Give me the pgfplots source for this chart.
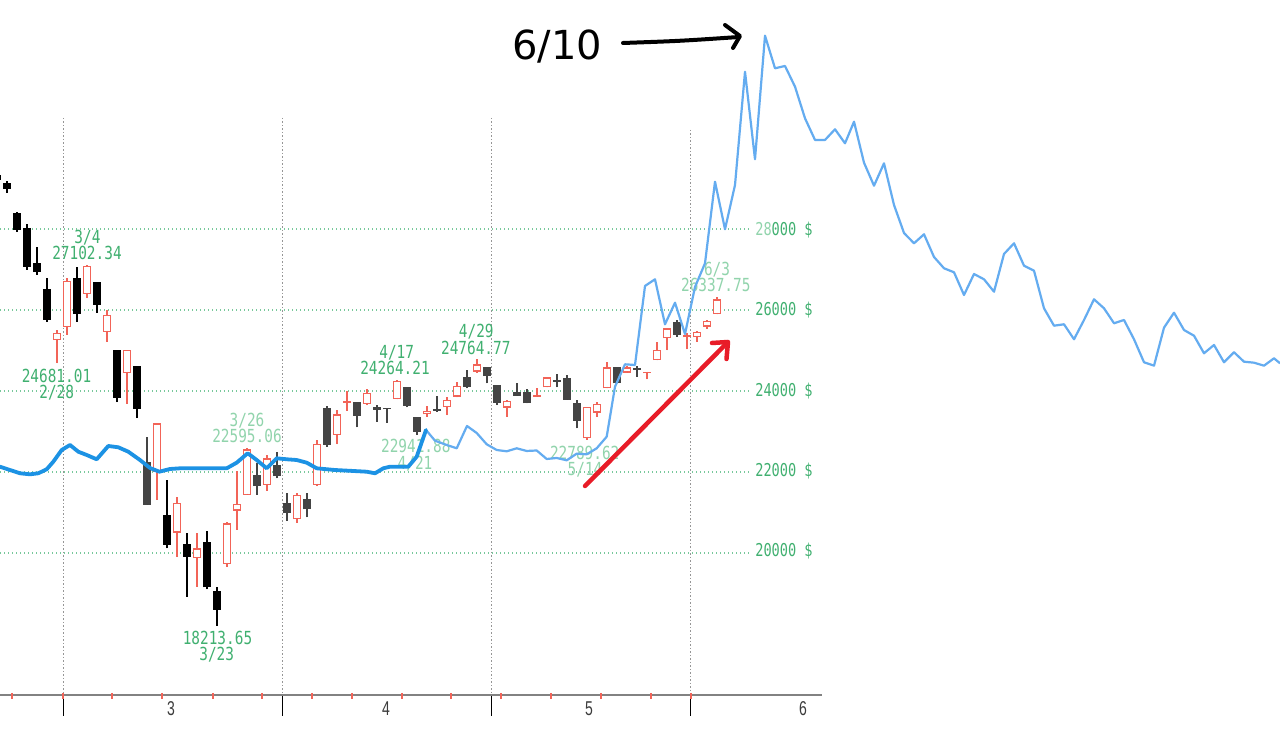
\documentclass[border=0pt]{standalone}
\usepackage{pgfplots}
\pgfplotsset{compat=1.18}
\usepackage{pgfplotstable}
\usepackage{graphicx}
\usepackage{fontspec}
\newfontfamily\labfont{DejaVu Sans Mono}
\newfontfamily\bigfont{DejaVu Sans}
\newfontfamily\axfont{Liberation Sans}

\definecolor{cred}{RGB}{242,100,88}
\definecolor{cgray}{RGB}{68,68,68}
\definecolor{gtxt}{RGB}{64,176,112}
\definecolor{gtxtl}{RGB}{145,212,172}
\definecolor{ggrid}{RGB}{120,200,155}
\definecolor{vgrid}{RGB}{150,150,150}
\definecolor{axline}{RGB}{130,130,130}
\definecolor{axtxt}{RGB}{60,60,60}
\definecolor{bthick}{RGB}{28,146,228}
\definecolor{bthin}{RGB}{100,172,240}
\definecolor{arrred}{RGB}{232,28,40}

\newcommand\gl[1]{\scalebox{1}[1.25]{\labfont\fontsize{14.4}{16}\selectfont #1}}
\newcommand\rl[1]{\scalebox{1}[1.3]{\labfont\fontsize{13.6}{15}\selectfont #1}}
\newcommand\al[1]{\scalebox{0.7}[1]{\axfont\fontsize{20}{22}\selectfont #1}}

\pgfplotsset{candle/.style={only marks, mark=*, mark size=0pt,
  mark options={draw=none, fill=none}, forget plot,
  error bars/.cd, y dir=plus, y explicit, error mark=none}}

% candles: i = trading day index (0 = 2/28), o h l c
\pgfplotstableread{
i o h l c
-6 29340 29400 29140 29220
-5 29136 29185 28889 28988
-4 28395 28420 27926 27975
-3 28025 28123 26988 27062
-2 27160 27556 26864 26938
-1 26519 26790 25704 25753
2 26790 27062 25704 25901
4 26691 26691 25926 26123
6 25012 25012 23728 23827
8 24617 24617 23333 23556
11 20938 21803 20116 20198
13 20222 20501 18921 19909
15 20279 20543 19104 19153
16 19069 19153 18198 18593
}\blackC

\pgfplotstableread{
i o h l c
9 22254 22857 21185 21185
20 21926 22215 21432 21654
22 22173 22501 21844 21901
23 21242 21489 20798 20980
25 21326 21474 20881 21079
27 23573 23630 22625 22667
30 23736 23736 23104 23383
32 23598 23654 23242 23531
33 23573 23573 23217 23548
35 24106 24106 23598 23630
36 23365 23365 22914 22995
38 23548 23877 23489 23514
41 24353 24519 24067 24106
43 24585 24585 24190 24370
44 24148 24148 23654 23711
46 23983 24190 23877 23877
47 23983 24049 23696 23696
50 24272 24420 24091 24230
51 24314 24395 23778 23778
52 23711 23778 23079 23267
56 24585 24585 24190 24190
58 24561 24617 24353 24519
62 25696 25753 25341 25383
}\grayC

\pgfplotstableread{
i o h l c
0 25259 25506 24691 25432
1 25580 26790 25383 26716
3 26395 27111 26296 27086
5 25457 26000 25210 25877
7 24444 25012 23679 25012
10 22007 23203 21309 23203
12 20501 21390 19909 21242
14 19869 20486 19168 20116
17 19728 20773 19662 20733
18 21045 22032 20568 21210
19 21432 22585 21432 22560
21 21679 22420 21538 22338
24 20832 21474 20748 21432
26 21679 22790 21654 22691
28 22914 23531 22691 23425
29 23711 24007 23514 23753
31 23679 24042 23654 23958
34 23802 24272 23802 24247
37 23425 23630 23365 23514
39 23598 23859 23407 23778
40 23859 24230 23844 24131
42 24477 24783 24452 24659
45 23588 23778 23365 23753
48 23859 24067 23859 23901
49 24091 24353 24091 24338
53 22832 23612 22790 23612
54 23464 23736 23365 23679
55 24067 24723 24067 24585
57 24452 24617 24452 24585
59 24437 24477 24289 24452
60 24765 25217 24765 25012
61 25301 25548 25012 25548
63 25326 25425 25029 25383
64 25326 25489 25217 25464
65 25588 25753 25531 25728
66 25901 26314 25901 26264
}\redC

\pgfplotstableread{
x y
-5.70 22131
-4.70 22049
-3.70 21968
-2.70 21943
-1.87 21968
-1.03 22067
-0.37 22254
0.47 22543
1.30 22667
2.13 22501
2.97 22420
3.97 22314
5.13 22642
6.13 22610
7.13 22501
8.30 22296
9.30 22099
10.23 22007
11.30 22074
12.30 22091
16.97 22091
17.97 22230
19.07 22462
19.97 22296
20.97 22091
21.97 22338
22.97 22314
23.97 22296
24.97 22230
25.97 22091
27.80 22049
29.63 22025
30.97 22007
31.80 21968
32.63 22091
33.30 22131
35.13 22131
35.97 22378
36.90 23037
}\thickline

\pgfplotstableread{
x y
36.90 23037
37.80 22773
38.97 22667
39.97 22585
41.00 23136
41.97 22963
42.97 22684
43.97 22543
44.97 22511
45.97 22585
46.97 22519
47.97 22531
48.97 22321
49.97 22346
50.97 22289
51.97 22452
52.97 22437
53.97 22585
54.97 22872
55.80 24106
56.80 24659
57.80 24642
58.80 26593
59.80 26758
60.80 25647
61.80 26180
62.80 25407
63.80 26568
64.80 27153
65.80 29168
66.80 27993
67.80 29086
68.80 31884
69.80 29721
70.80 32773
71.80 31968
72.80 32025
73.80 31514
74.80 30733
75.80 30198
76.80 30198
77.80 30462
78.80 30116
79.70 30649
80.70 29637
81.70 29069
82.70 29622
83.70 28593
84.70 27901
85.70 27647
86.70 27869
87.70 27309
88.70 27030
89.70 26931
90.70 26370
91.70 26889
92.70 26758
93.70 26452
94.70 27383
95.70 27647
96.70 27094
97.70 26970
98.70 26042
99.70 25612
100.70 25647
101.70 25277
102.70 25753
103.70 26264
104.70 26042
105.70 25672
106.70 25753
107.70 25277
108.70 24709
109.70 24625
110.70 25563
111.70 25933
112.70 25506
113.70 25365
114.70 24931
115.70 25136
116.70 24709
117.70 24956
118.70 24723
119.70 24699
120.70 24625
121.70 24807
122.30 24684
}\thinline

\begin{document}
\begin{tikzpicture}
\fill[white] (0,0) rectangle (1280pt,730pt);

% background decorations in pixel coordinates (y downward)
\begin{scope}[x=1pt,y=-1pt,yshift=730pt]
  \foreach \yy in {229,310,391,472,553}{
    \draw[ggrid, line width=1.3pt, dash pattern=on 1.4pt off 2.6pt] (0,\yy) -- (750,\yy);
  }
  \foreach \xx in {63,282,491}{
    \draw[vgrid, line width=1pt, dash pattern=on 1.5pt off 2pt] (\xx,118) -- (\xx,695);
  }
  \draw[vgrid, line width=1pt, dash pattern=on 1.5pt off 2pt] (690,130) -- (690,695);
  \begin{scope}[every node/.style={anchor=base, inner sep=0pt}]
  \node[text=gtxt] at (87.5,244) {\gl{3/4}};
  \node[text=gtxt] at (87,260) {\gl{27102.34}};
  \node[text=gtxt] at (56.5,383) {\gl{24681.01}};
  \node[text=gtxt] at (56.7,399) {\gl{2/28}};
  \node[text=gtxtl] at (247,426.5) {\gl{3/26}};
  \node[text=gtxtl] at (247,442.5) {\gl{22595.06}};
  \node[text=gtxt] at (217.5,645) {\gl{18213.65}};
  \node[text=gtxt] at (216.7,660.5) {\gl{3/23}};
  \node[text=gtxt] at (396.7,359) {\gl{4/17}};
  \node[text=gtxt] at (395,375) {\gl{24264.21}};
  \node[text=gtxt] at (476.3,338) {\gl{4/29}};
  \node[text=gtxt] at (475.8,355) {\gl{24764.77}};
  \node[text=gtxtl] at (415.8,453) {\gl{22941.88}};
  \node[text=gtxtl] at (415,470) {\gl{4/21}};
  \node[text=gtxtl] at (584.7,459.5) {\gl{22789.62}};
  \node[text=gtxtl] at (585,475.5) {\gl{5/14}};
  \node[text=gtxtl] at (717,276) {\gl{6/3}};
  \node[text=gtxtl] at (715.8,291.7) {\gl{26337.75}};
  \end{scope}
  % x axis
  \draw[axline, line width=2.5pt] (0,695) -- (822,695);
  \foreach \xx in {63,282,491,690}{
    \draw[black, line width=1pt] (\xx,696) -- (\xx,716);
  }
  \foreach \xx in {12,63,112,162,213,262,312,352,402,451,501,551,601,651,691}{
    \draw[cred, line width=1.2pt] (\xx,693) -- (\xx,699);
  }
  \node[anchor=base, text=axtxt] at (171,716) {\al{3}};
  \node[anchor=base, text=axtxt] at (386,716) {\al{4}};
  \node[anchor=base, text=axtxt] at (589,716) {\al{5}};
  \node[anchor=base, text=axtxt] at (803,716) {\al{6}};
\end{scope}

\begin{axis}[
  at={(0,0)}, anchor=south west,
  width=1280pt, height=730pt, scale only axis,
  xmin=-5.7, xmax=122.3, ymin=15629.63, ymax=33654.32,
  hide axis, clip=true,
]
% wicks
\addplot[candle, error bar style={line width=1.3pt, color=black}]
  table[x=i, y=l, y error expr=\thisrow{h}-\thisrow{l}] {\blackC};
\addplot[candle, error bar style={line width=1.3pt, color=cgray}]
  table[x=i, y=l, y error expr=\thisrow{h}-\thisrow{l}] {\grayC};
\addplot[candle, error bar style={line width=1.3pt, color=cred}]
  table[x=i, y=l, y error expr=\thisrow{h}-\thisrow{l}] {\redC};
% bodies
\addplot[candle, error bar style={line width=8pt, color=black}]
  table[x=i, y=c, y error expr={max(\thisrow{o}-\thisrow{c},40)}] {\blackC};
\addplot[candle, error bar style={line width=8pt, color=cgray}]
  table[x=i, y=c, y error expr={max(\thisrow{o}-\thisrow{c},40)}] {\grayC};
\addplot[candle, error bar style={line width=8pt, color=cred}]
  table[x=i, y=o, y error expr={max(\thisrow{c}-\thisrow{o},40)}] {\redC};
\addplot[candle, error bar style={line width=5.4pt, color=white}]
  table[x=i, y expr=\thisrow{o}+32, y error expr={max(\thisrow{c}-\thisrow{o}-64,0)}] {\redC};
% overlay lines
\addplot[bthin, line width=2.2pt, line join=round, mark=none] table[x=x, y=y] {\thinline};
\addplot[bthick, line width=3.8pt, line join=round, line cap=round, mark=none] table[x=x, y=y] {\thickline};
\end{axis}

% foreground annotations in pixel coordinates
\begin{scope}[x=1pt,y=-1pt,yshift=730pt]
  \begin{scope}[every node/.style={anchor=base, inner sep=0pt, text=gtxt}]
  \node at (784,235.5) {\rl{{\color{gtxtl}28}000 \$}};
  \node at (784,316) {\rl{26000 \$}};
  \node at (784,397) {\rl{24000 \$}};
  \node at (784,477) {\rl{22000 \$}};
  \node at (784,557) {\rl{20000 \$}};
  \end{scope}
  \node[anchor=base, inner sep=0pt] at (557,60) {\bigfont\fontsize{40}{46}\selectfont 6/10};
  \draw[black, line width=4pt, line cap=round, line join=round] (623,43) .. controls (680,41) .. (739,37);
  \draw[black, line width=4pt, line cap=round, line join=round] (725,25) -- (740,36) -- (733,48);
  \draw[arrred, line width=4.5pt, line cap=round] (585,486) -- (727,343);
  \draw[arrred, line width=4.5pt, line cap=round, line join=round] (712,343) -- (728,342) -- (726.5,359);
\end{scope}
\pgfresetboundingbox
\path[use as bounding box] (0,0) rectangle (1280pt,730pt);
\end{tikzpicture}
\end{document}
